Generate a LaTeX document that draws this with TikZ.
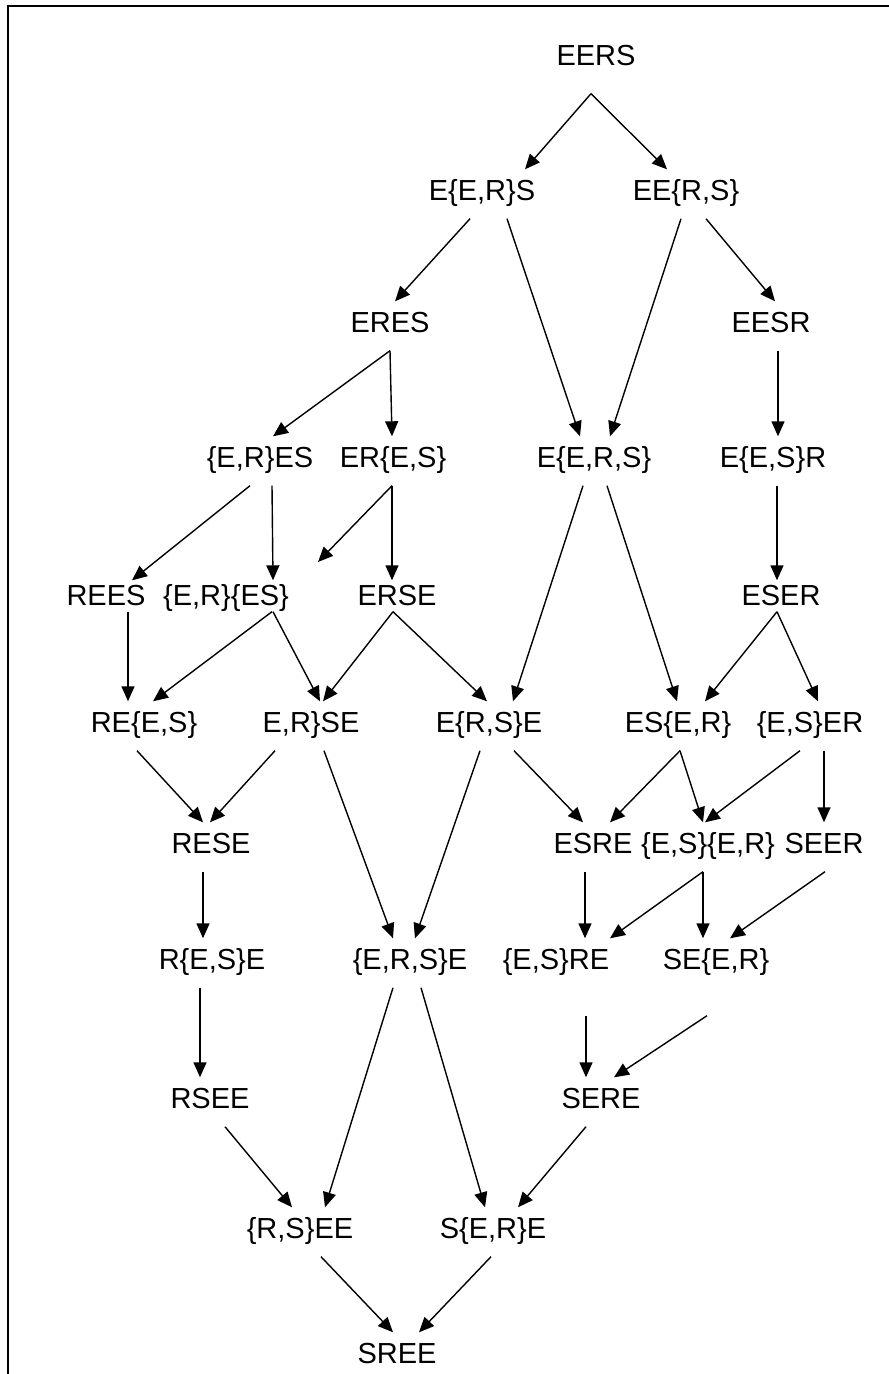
\documentclass[tikz,border=0pt]{standalone}
\usepackage{fontspec}
\setmainfont{Liberation Sans}
\usetikzlibrary{arrows.meta}

\begin{document}
\begin{tikzpicture}
  [
    x = 1pt,
    y = -1pt,
    every node/.style = {
      inner sep = 0pt,
      anchor = base,
      font = \fontsize{29}{34}\selectfont,
      text height = 30pt,
      text depth = 18pt,
    },
    tight/.style = {
      text height = 24pt,
      text depth = 6pt,
    },
    deep/.style = {
      text depth = 46pt,
    },
    > = {Triangle[length=15pt,width=13pt]},
    line width = 1.4pt,
  ]

  \useasboundingbox (0,0) rectangle (889,1374);
  \draw [line width=1.8pt] (8,1374) -- (8,6) -- (889,6);

  \node [text depth=28pt] (EERS) at (596,65) {EERS};

  \node (EerS) at (482,200) {E\{E,R\}S};
  \node (EErs) at (686,200) {EE\{R,S\}};

  \node (ERES) at (390,332) {ERES};
  \node (EESR) at (771,332) {EESR};

  \node (erES) at (260,467) {\{E,R\}ES};
  \node (ERes) at (393,467) {ER\{E,S\}};
  \node (Eers) at (594,467) {E\{E,R,S\}};
  \node (EesR) at (773,467) {E\{E,S\}R};

  \node [tight] (REES) at (106,605) {REES};
  \node [tight] (er-es) at (226,605) {\{E,R\}\{ES\}};
  \node [tight] (ERSE) at (397,605) {ERSE};
  \node [tight] (ESER) at (781,605) {ESER};

  \node (REes) at (144,732) {RE\{E,S\}};
  \node (erSE) at (311,732) {E,R\}SE};
  \node (ErsE) at (489,732) {E\{R,S\}E};
  \node (ESer) at (678,732) {ES\{E,R\}};
  \node (esER) at (810,732) {\{E,S\}ER};

  \node (RESE) at (211,853) {RESE};
  \node (ESRE) at (593,853) {ESRE};
  \node (es-er) at (708,853) {\{E,S\}\{E,R\}};
  \node (SEER) at (824,853) {SEER};

  \node (ResE) at (212,969) {R\{E,S\}E};
  \node (ersE) at (410,969) {\{E,R,S\}E};
  \node [deep] (esRE) at (556,969) {\{E,S\}RE};
  \node [deep] (SEer) at (716,969) {SE\{E,R\}};

  \node (RSEE) at (210,1108) {RSEE};
  \node (SERE) at (601,1108) {SERE};

  \node (rsEE) at (300,1238) {\{R,S\}EE};
  \node (SerE) at (493,1238) {S\{E,R\}E};

  \node (SREE) at (397,1363) {SREE};

  \coordinate (loose) at (318,562);

  \draw [->] ([xshift=-5pt] EERS.south) -- ([xshift=43pt] EerS.north);
  \draw [->] ([xshift=-5pt] EERS.south) -- ([xshift=-19pt] EErs.north);

  \draw [->] ([xshift=-12pt] EerS.south) -- ([xshift=5pt] ERES.north);
  \draw [->] ([xshift=25pt] EerS.south) -- ([xshift=-14pt] Eers.north);
  \draw [->] ([xshift=-5pt] EErs.south) -- ([xshift=16pt] Eers.north);
  \draw [->] ([xshift=20pt] EErs.south) -- ([xshift=4pt] EESR.north);

  \draw [->] (ERES.south) -- ([xshift=13pt] erES.north);
  \draw [->] (ERES.south) -- ([xshift=-1pt] ERes.north);
  \draw [->] ([xshift=7pt] EESR.south) -- ([xshift=5pt] EesR.north);

  \draw [->] ([xshift=-10pt] erES.south) -- ([xshift=26pt] REES.north);
  \draw [->] ([xshift=12pt] erES.south) -- ([xshift=47pt] er-es.north);
  \draw [->] ([xshift=-1pt] ERes.south) -- (loose);
  \draw [->] ([xshift=-1pt] ERes.south) -- ([xshift=-5pt] ERSE.north);
  \draw [->] ([xshift=-11pt] Eers.south) -- ([xshift=24pt] ErsE.north);
  \draw [->] ([xshift=13pt] Eers.south) -- ([xshift=-1pt] ESer.north);
  \draw [->] ([xshift=4pt] EesR.south) -- ([xshift=-4pt] ESER.north);

  \draw [->] ([xshift=22pt] REES.south) -- ([xshift=-16pt] REes.north);
  \draw [->] ([xshift=46pt] er-es.south) -- ([xshift=9pt] REes.north);
  \draw [->] ([xshift=47pt] er-es.south) -- ([xshift=9pt] erSE.north);
  \draw [->] ([xshift=-4pt] ERSE.south) -- ([xshift=12pt] erSE.north);
  \draw [->] ([xshift=-4pt] ERSE.south) -- ([xshift=-2pt] ErsE.north);
  \draw [->] ([xshift=-4pt] ESER.south) -- ([xshift=27pt] ESer.north);
  \draw [->] ([xshift=-4pt] ESER.south) -- ([xshift=8pt] esER.north);

  \draw [->] ([xshift=-7pt] REes.south) -- ([xshift=-8pt] RESE.north);
  \draw [->] ([xshift=-36pt] erSE.south) -- ([xshift=-1pt] RESE.north);
  \draw [->] ([xshift=13pt] erSE.south) -- ([xshift=-17pt] ersE.north);
  \draw [->] ([xshift=-9pt] ErsE.south) -- ([xshift=5pt] ersE.north);
  \draw [->] ([xshift=25pt] ErsE.south) -- ([xshift=-10pt] ESRE.north);
  \draw [->] ([xshift=2pt] ESer.south) -- ([xshift=17pt] ESRE.north);
  \draw [->] ([xshift=2pt] ESer.south) -- ([xshift=-5pt] es-er.north);
  \draw [->] ([xshift=-10pt] esER.south) -- ([xshift=-3pt] es-er.north);
  \draw [->] ([xshift=14pt] esER.south) -- (SEER.north);

  \draw [->] ([xshift=-8pt] RESE.south) -- ([xshift=-9pt] ResE.north);
  \draw [->] ([xshift=-8pt] ESRE.south) -- ([xshift=29pt] esRE.north);
  \draw [->] ([xshift=-5pt] es-er.south) -- ([xshift=54pt] esRE.north);
  \draw [->] ([xshift=-5pt] es-er.south) -- ([xshift=-13pt] SEer.north);
  \draw [->] ([xshift=1pt] SEER.south) -- ([xshift=14pt] SEer.north);

  \draw [->] ([xshift=-12pt] ResE.south) -- ([xshift=-10pt] RSEE.north);
  \draw [->] ([xshift=-17pt] ersE.south) -- ([xshift=25pt] rsEE.north);
  \draw [->] ([xshift=11pt] ersE.south) -- ([xshift=-8pt] SerE.north);
  \draw [->] ([xshift=30pt] esRE.south) -- ([xshift=-15pt] SERE.north);
  \draw [->] ([xshift=-9pt] SEer.south) -- ([xshift=13pt] SERE.north);

  \draw [->] ([xshift=15pt] RSEE.south) -- ([xshift=-8pt] rsEE.north);
  \draw [->] ([xshift=-15pt] SERE.south) -- ([xshift=25pt] SerE.north);

  \draw [->] ([xshift=21pt] rsEE.south) -- ([xshift=-4pt] SREE.north);
  \draw [->] ([xshift=-2pt] SerE.south) -- ([xshift=22pt] SREE.north);

\end{tikzpicture}
\end{document}
